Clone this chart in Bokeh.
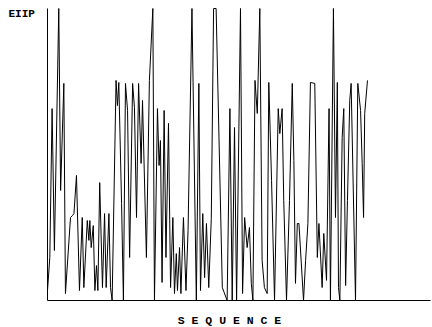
from bokeh.plotting import figure
from bokeh.models import Range1d, Label, FixedTicker
from bokeh.embed import file_html
from bokeh.resources import INLINE

# sequence position (residue index) and EIIP value
position = [0, 1.0, 2.0, 3.0, 4.9, 5.7, 7.1, 7.8, 10.0, 10.9, 11.5, 12.6, 13.9, 15.1, 15.8,
            17.3, 18.0, 18.4, 19.0, 19.9, 20.6, 21.3, 21.9, 22.7, 23.9, 24.8, 25.5, 26.7,
            27.4, 28.1, 29.8, 30.4, 31.0, 32.2, 33.0, 33.9, 34.8, 35.7, 37.0, 37.8, 38.7,
            39.6, 40.7, 41.3, 43.0, 44.3, 45.8, 46.5, 47.8, 48.5, 49.1, 49.8, 50.7, 51.5,
            52.6, 53.5, 54.5, 55.2, 56.0, 56.5, 57.4, 58.0, 59.1, 60.2, 61.1, 62.8, 64.7,
            65.8, 66.5, 67.5, 68.3, 69.1, 70.1, 71.2, 72.2, 73.3, 76.0, 78.1, 79.3, 80.3,
            81.3, 82.2, 83.9, 84.8, 85.7, 86.8, 87.8, 88.6, 89.3, 90.2, 91.2, 92.3, 93.3,
            94.3, 95.5, 96.2, 97.4, 98.7, 100.3, 101.0, 102.0, 102.7, 103.9, 105.2, 106.4,
            107.1, 107.8, 108.6, 109.3, 111.3, 112.2, 113.2, 114.3, 116.2, 117.3, 118.0,
            119.4, 120.1, 121.3, 122.4, 123.0, 124.3, 125.2, 126.0, 126.5, 127.1, 128.1,
            128.8, 129.6, 130.4, 131.4, 132.0, 133.9, 134.9, 136.1, 136.8, 137.4, 137.9,
            139.1]
eiip = [0.0043, 0.0186, 0.0830, 0.0216, 0.1263, 0.0476, 0.0939, 0.0030, 0.0359, 0.0368,
        0.0376, 0.0541, 0.0043, 0.0359, 0.0056, 0.0346, 0.0260, 0.0346, 0.0229, 0.0324,
        0.0043, 0.0151, 0.0043, 0.0510, 0.0056, 0.0376, 0.0056, 0.0376, 0.0056, 0.0,
        0.0952, 0.0843, 0.0943, 0.0420, 0.0, 0.0939, 0.0822, 0.0186, 0.0939, 0.0835,
        0.0359, 0.0939, 0.0593, 0.0865, 0.0186, 0.0952, 0.1263, 0.0, 0.0830, 0.0584,
        0.0692, 0.0078, 0.0822, 0.0186, 0.0766, 0.0056, 0.0359, 0.0030, 0.0203, 0.0043,
        0.0229, 0.0030, 0.0359, 0.0043, 0.0303, 0.1263, 0.0, 0.0939, 0.0043, 0.0376,
        0.0099, 0.0333, 0.0056, 0.0355, 0.1263, 0.1263, 0.0056, 0.0, 0.0830, 0.0,
        0.0748, 0.0, 0.1263, 0.0030, 0.0359, 0.0229, 0.0316, 0.0074, 0.0, 0.0952,
        0.0809, 0.1263, 0.0173, 0.0056, 0.0030, 0.0943, 0.0519, 0.0, 0.0830, 0.0722,
        0.0830, 0.0433, 0.0, 0.0433, 0.0939, 0.0606, 0.0074, 0.0333, 0.0333, 0.0,
        0.0173, 0.0333, 0.0943, 0.0939, 0.0186, 0.0333, 0.0056, 0.0290, 0.0087, 0.0830,
        0.0, 0.1263, 0.0359, 0.0943, 0.0056, 0.0, 0.0705, 0.0830, 0.0065, 0.0433,
        0.0865, 0.0939, 0.0, 0.0939, 0.0822, 0.0593, 0.0359, 0.0809, 0.0952]

y_label = "EIIP"
x_label = "S E Q U E N C E"

# axis extents (data units)
x_axis_end = 166.5
y_axis_end = 0.1263

# page geometry: margins around the axes, in pixels
W, H = 432, 327
left, right, top, bottom = 47, 2, 8, 27
px_x = x_axis_end / (W - left - right)
px_y = y_axis_end / (H - top - bottom)

p = figure(width=W, height=H, output_backend="svg", toolbar_location=None,
           x_range=Range1d(-left * px_x, x_axis_end + right * px_x),
           y_range=Range1d(-bottom * px_y, y_axis_end + top * px_y),
           min_border=0)
p.outline_line_color = None
p.grid.visible = False
p.background_fill_color = "white"
p.border_fill_color = "white"

for ax in (p.xaxis, p.yaxis):
    ax.ticker = FixedTicker(ticks=[])
    ax.major_tick_line_color = None
    ax.minor_tick_line_color = None
    ax.major_label_text_font_size = "0px"
    ax.axis_line_color = "black"
    ax.axis_line_width = 1
    ax.fixed_location = 0
p.xaxis.bounds = (0, x_axis_end)
p.yaxis.bounds = (0, y_axis_end)

p.line(position, eiip, line_color="black", line_width=1)

p.add_layout(Label(x=8, y=H - 13, x_units="screen", y_units="screen", text=y_label,
                   text_font="Liberation Mono", text_font_style="bold",
                   text_font_size="11px", text_color="black", text_baseline="middle"))
p.add_layout(Label(x=229, y=H - 320, x_units="screen", y_units="screen", text=x_label,
                   text_font="Liberation Mono", text_font_style="bold",
                   text_font_size="11.5px", text_color="black", text_align="center",
                   text_baseline="middle"))

open("out.html", "w").write(file_html(p, INLINE))
